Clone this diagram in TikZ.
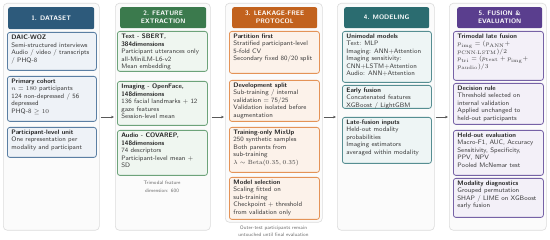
\documentclass[tikz,border=0pt]{standalone}
\usepackage{amsmath,amssymb}
\usetikzlibrary{arrows.meta}
\definecolor{blueD}{HTML}{2D5A7B}\definecolor{blueB}{HTML}{5B7FA3}\definecolor{blueF}{HTML}{EEF2F7}
\definecolor{greenD}{HTML}{3B7A4D}\definecolor{greenB}{HTML}{6DA37A}\definecolor{greenF}{HTML}{EFF6F0}
\definecolor{orangeD}{HTML}{C2621E}\definecolor{orangeB}{HTML}{E49357}\definecolor{orangeF}{HTML}{FCF2EA}
\definecolor{tealD}{HTML}{2B6C70}\definecolor{tealB}{HTML}{568E92}\definecolor{tealF}{HTML}{EEF5F5}
\definecolor{purpleD}{HTML}{5A3E8E}\definecolor{purpleB}{HTML}{7662A6}\definecolor{purpleF}{HTML}{F3F0F8}
\definecolor{ttl}{HTML}{222222}\definecolor{bodyc}{HTML}{3A3A3A}
\definecolor{panelB}{HTML}{DCDCDC}\definecolor{panelF}{HTML}{FBFBFB}
\newcommand{\infobox}[8]{\node[#6, anchor=north west] (#1) at (#2,#3)
  {\parbox[c][\dimexpr#5pt-5pt\relax][t]{\dimexpr#4pt-8pt\relax}{\raggedright{\bfseries\color{ttl}#7}\\#8}};}
\tikzset{
  panel/.style={draw=panelB, fill=panelF, line width=0.6pt, rounded corners=4pt, anchor=north west, inner sep=0pt},
  hdr/.style={rounded corners=2pt, anchor=north west, text=white, align=center, inner sep=0pt,
    font=\sffamily\bfseries\fontsize{6.5}{8}\selectfont},
  ibox/.style={rounded corners=2.5pt, line width=0.8pt, inner xsep=4pt, inner ysep=2.5pt, text=bodyc,
    font=\sffamily\fontsize{6.5}{7.5}\selectfont},
  bluebox/.style={ibox, draw=blueB, fill=blueF},
  greenbox/.style={ibox, draw=greenB, fill=greenF},
  orangebox/.style={ibox, draw=orangeB, fill=orangeF},
  tealbox/.style={ibox, draw=tealB, fill=tealF},
  purplebox/.style={ibox, draw=purpleB, fill=purpleF},
  note/.style={align=center, text=gray!85!black, font=\sffamily\fontsize{5}{7.5}\selectfont, inner sep=0pt},
  arr/.style={-{Stealth[length=3pt,width=2.6pt]}, draw=gray!70!black, line width=0.5pt, shorten <=1pt, shorten >=1pt}
}
\begin{document}
\begin{tikzpicture}[x=1pt,y=-1pt]
\useasboundingbox[fill=white] (0,0) rectangle (550,240);
% panels
\node[panel, minimum width=96pt, minimum height=227pt] (p1) at (3,3) {};
\node[panel, minimum width=95pt, minimum height=227pt] (p2) at (115,3) {};
\node[panel, minimum width=97pt, minimum height=219pt] (p3) at (225,3) {};
\node[panel, minimum width=97pt, minimum height=227pt] (p4) at (337,3) {};
\node[panel, minimum width=97pt, minimum height=227pt] (p5) at (449,3) {};
% headers
\node[hdr, fill=blueD, minimum width=86pt, minimum height=22pt] (h1) at (8,7) {1. DATASET};
\node[hdr, fill=greenD, minimum width=86pt, minimum height=21pt] (h2) at (120,7) {2. FEATURE\\EXTRACTION};
\node[hdr, fill=orangeD, minimum width=85pt, minimum height=21pt] (h3) at (232,7) {3. LEAKAGE-FREE\\PROTOCOL};
\node[hdr, fill=tealD, minimum width=85pt, minimum height=21pt] (h4) at (344,7) {4. MODELING};
\node[hdr, fill=purpleD, minimum width=85pt, minimum height=21pt] (h5) at (457,7) {5. FUSION \&\\EVALUATION};
% column 1
\infobox{b11}{7}{32}{89}{38}{bluebox}{DAIC-WOZ}{Semi-structured interviews\\Audio / video / transcripts\\/ PHQ-8}
\infobox{b12}{7}{76}{89}{45}{bluebox}{Primary cohort}{$n = 180$ participants\\124 non-depressed / 56\\depressed\\PHQ-8 $\geq 10$}
\infobox{b13}{7}{127}{89}{30}{bluebox}{Participant-level unit}{One representation per\\modality and participant}
% column 2
\infobox{b21}{117}{31}{90}{40}{greenbox}{Text - SBERT,\\384dimensions}{Participant utterances only\\all-MiniLM-L6-v2\\Mean embedding}
\infobox{b22}{117}{81}{90}{44}{greenbox}{Imaging - OpenFace,\\148dimensions}{136 facial landmarks + 12\\gaze features\\Session-level mean}
\infobox{b23}{117}{130}{90}{45}{greenbox}{Audio - COVAREP,\\148dimensions}{74 descriptors\\Participant-level mean +\\SD}
\node[note] (n2) at (162,187) {Trimodal feature\\dimension: 600};
% column 3
\infobox{b31}{229}{31}{90}{42}{orangebox}{Partition first}{Stratified participant-level\\5-fold CV\\Secondary fixed 80/20 split}
\infobox{b32}{229}{80}{90}{41}{orangebox}{Development split}{Sub-training / internal\\validation = 75/25\\Validation isolated before\\augmentation}
\infobox{b33}{229}{127}{90}{45}{orangebox}{Training-only MixUp}{250 synthetic samples\\Both parents from\\sub-training\\$\lambda \sim \mathrm{Beta}(0.35, 0.35)$}
\infobox{b34}{229}{177}{90}{42}{orangebox}{Model selection}{Scaling fitted on\\sub-training\\Checkpoint + threshold\\from validation only}
\node[note] (n3) at (273.5,231) {Outer-test participants remain\\untouched until final evaluation};
% column 4
\infobox{b41}{342}{31}{89}{51}{tealbox}{Unimodal models}{Text: MLP\\Imaging: ANN+Attention\\Imaging sensitivity:\\CNN+LSTM+Attention\\Audio: ANN+Attention}
\infobox{b42}{342}{85}{89}{23}{tealbox}{Early fusion}{Concatenated features\\XGBoost / LightGBM}
\infobox{b43}{342}{117}{89}{46}{tealbox}{Late-fusion inputs}{Held-out modality\\probabilities\\Imaging estimators\\averaged within modality}
% column 5
\infobox{b51}{453}{31}{90}{49}{purplebox}{Trimodal late fusion}{$p_{\mathrm{img}} = (p_{\mathrm{ANN}} +$\\$p_{\mathrm{CNN\text{-}LSTM}})/2$\\$p_{\mathrm{tri}} = (p_{\mathrm{text}} + p_{\mathrm{img}} +$\\$p_{\mathrm{audio}})/3$}
\infobox{b52}{453}{83}{90}{41}{purplebox}{Decision rule}{Threshold selected on\\internal validation\\Applied unchanged to\\held-out participants}
\infobox{b53}{453}{130}{90}{45}{purplebox}{Held-out evaluation}{Macro-F1, AUC, Accuracy\\Sensitivity, Specificity,\\PPV, NPV\\Pooled McNemar test}
\infobox{b54}{453}{178}{90}{39}{purplebox}{Modality diagnostics}{Grouped permutation\\SHAP / LIME on XGBoost\\early fusion}
% arrows
\draw[arr] (p1.east |- 0,117) -- (p2.west |- 0,117);
\draw[arr] (p2.east |- 0,117) -- (p3.west |- 0,117);
\draw[arr] (p3.east |- 0,117) -- (p4.west |- 0,117);
\draw[arr] (p4.east |- 0,117) -- (p5.west |- 0,117);
\end{tikzpicture}
\end{document}
